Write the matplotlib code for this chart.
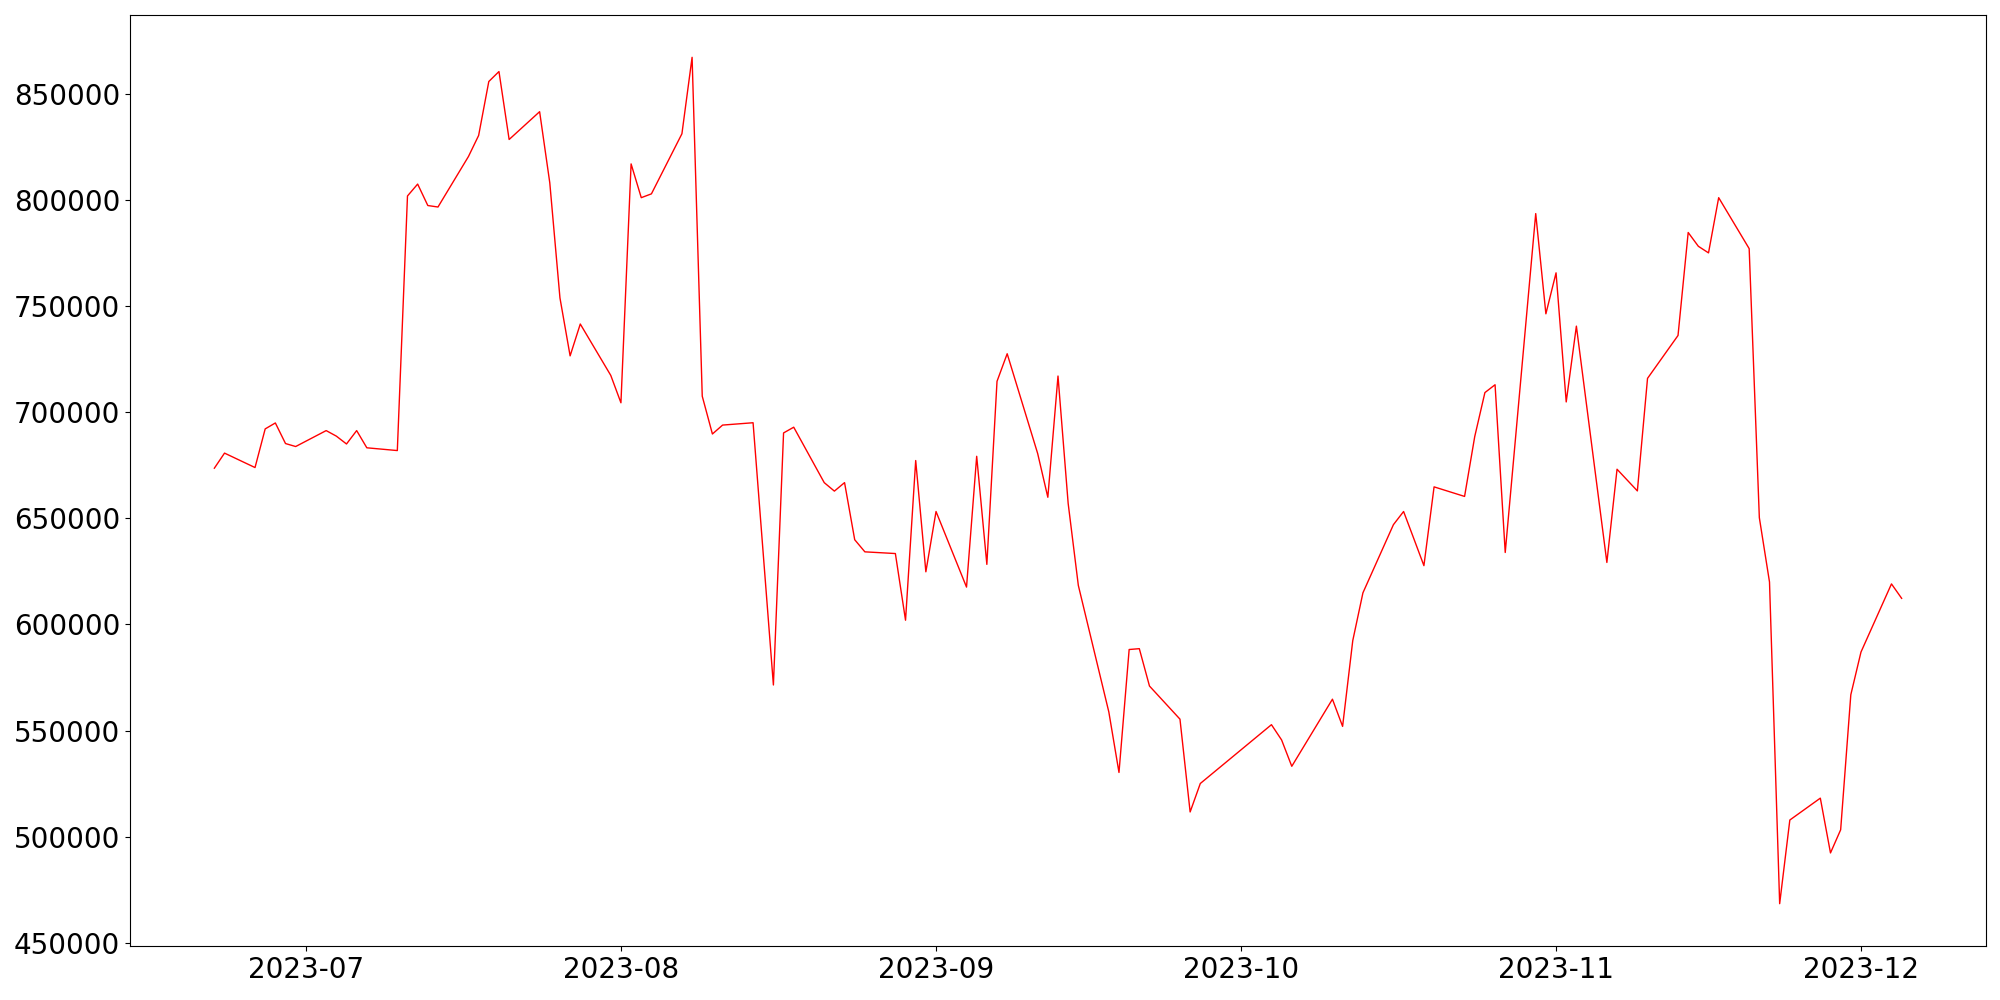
import matplotlib
matplotlib.use("Agg")
import matplotlib.pyplot as plt
import matplotlib.dates as mdates
import pandas as pd

# trading days (Korean market calendar)
dates = [
    "2023-06-22", "2023-06-23", "2023-06-26", "2023-06-27", "2023-06-28", "2023-06-29", "2023-06-30",
    "2023-07-03", "2023-07-04", "2023-07-05", "2023-07-06", "2023-07-07",
    "2023-07-10", "2023-07-11", "2023-07-12", "2023-07-13", "2023-07-14",
    "2023-07-17", "2023-07-18", "2023-07-19", "2023-07-20", "2023-07-21",
    "2023-07-24", "2023-07-25", "2023-07-26", "2023-07-27", "2023-07-28",
    "2023-07-31", "2023-08-01", "2023-08-02", "2023-08-03", "2023-08-04",
    "2023-08-07", "2023-08-08", "2023-08-09", "2023-08-10", "2023-08-11",
    "2023-08-14", "2023-08-16", "2023-08-17", "2023-08-18",
    "2023-08-21", "2023-08-22", "2023-08-23", "2023-08-24", "2023-08-25",
    "2023-08-28", "2023-08-29", "2023-08-30", "2023-08-31", "2023-09-01",
    "2023-09-04", "2023-09-05", "2023-09-06", "2023-09-07", "2023-09-08",
    "2023-09-11", "2023-09-12", "2023-09-13", "2023-09-14", "2023-09-15",
    "2023-09-18", "2023-09-19", "2023-09-20", "2023-09-21", "2023-09-22",
    "2023-09-25", "2023-09-26", "2023-09-27",
    "2023-10-04", "2023-10-05", "2023-10-06",
    "2023-10-10", "2023-10-11", "2023-10-12", "2023-10-13",
    "2023-10-16", "2023-10-17", "2023-10-18", "2023-10-19", "2023-10-20",
    "2023-10-23", "2023-10-24", "2023-10-25", "2023-10-26", "2023-10-27",
    "2023-10-30", "2023-10-31", "2023-11-01", "2023-11-02", "2023-11-03",
    "2023-11-06", "2023-11-07", "2023-11-08", "2023-11-09", "2023-11-10",
    "2023-11-13", "2023-11-14", "2023-11-15", "2023-11-16", "2023-11-17",
    "2023-11-20", "2023-11-21", "2023-11-22", "2023-11-23", "2023-11-24",
    "2023-11-27", "2023-11-28", "2023-11-29", "2023-11-30", "2023-12-01",
    "2023-12-04", "2023-12-05",
]

values = [
    673600, 680700, 673900, 692100, 694900, 685200, 683800,
    691300, 688700, 685000, 691300, 683200,
    681900, 801800, 807400, 797300, 796600,
    820400, 830300, 855700, 860400, 828400,
    841500, 808000, 753800, 726500, 741500,
    717300, 704400, 816900, 801000, 802800,
    831100, 867100, 707500, 689700, 693900,
    695000, 571500, 690200, 692900,
    666800, 662800, 666800, 639900, 634200,
    633400, 602000, 677200, 624800, 653200,
    617600, 679200, 628300, 714500, 727500,
    680500, 659900, 717000, 657000, 618400,
    558800, 530300, 588200, 588600, 571000,
    555400, 511700, 525100,
    552800, 545600, 533200,
    564800, 552000, 592400, 614900,
    647000, 653200, 640500, 627700, 664800,
    660300, 688500, 709200, 712900, 633900,
    793500, 746300, 765600, 704800, 740500,
    629200, 673100, 668000, 662900, 715900,
    736100, 784600, 778100, 775000, 801000,
    777000, 650300, 620000, 468500, 507900,
    518200, 492400, 503300, 566900, 587000,
    619100, 612300,
]

x = pd.to_datetime(dates)

fig, ax = plt.subplots(figsize=(20, 10), dpi=100)
ax.plot(x, values, color="red", linewidth=1)

ax.xaxis.set_major_locator(mdates.MonthLocator())
ax.xaxis.set_major_formatter(mdates.DateFormatter("%Y-%m"))
ax.tick_params(axis="both", labelsize=20)

plt.subplots_adjust(left=0.065, right=0.993, top=0.985, bottom=0.054)
plt.savefig("out.png")
